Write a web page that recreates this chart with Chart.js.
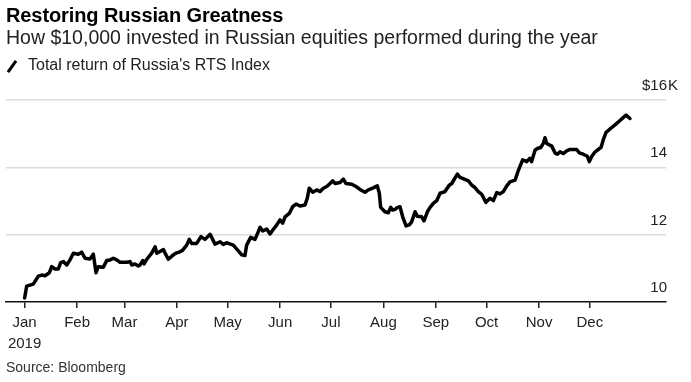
<!DOCTYPE html>
<html><head><meta charset="utf-8">
<script src="https://cdn.jsdelivr.net/npm/chart.js@4"></script>
<style>
html,body{margin:0;padding:0;background:#fff;}
#wrap{position:relative;width:691px;height:382px;overflow:hidden;font-family:"Liberation Sans",Arial,sans-serif;color:#000;}
#c{position:absolute;left:0;top:0;}
.t{position:absolute;white-space:nowrap;line-height:1;}
#title{left:6px;top:5px;font-size:20px;font-weight:bold;letter-spacing:-0.1px;}
#sub{left:6px;top:28px;font-size:19.5px;color:#222;}
#leg{left:28px;top:57px;font-size:16px;color:#222;}
#legicon{position:absolute;left:5px;top:65px;width:14px;height:3px;background:#000;transform:rotate(-55deg);}
#src{left:6px;top:360px;font-size:14px;color:#333;}
</style></head>
<body>
<div id="wrap">
<canvas id="c" width="691" height="382"></canvas>
<div class="t" id="title">Restoring Russian Greatness</div>
<div class="t" id="sub">How $10,000 invested in Russian equities performed during the year</div>
<div id="legicon"></div>
<div class="t" id="leg">Total return of Russia's RTS Index</div>
<div class="t" id="src">Source: Bloomberg</div>
</div>
<script>
// Day of year 2019 (0 = Jan 1) and value in $K
const days = [0,1.2,5.1,8.1,10.1,12.1,14.6,16.0,18.0,19.9,21.3,22.9,24.9,26.8,28.8,31.7,33.7,35.7,38.6,40.6,42.2,43.5,46.5,48.5,50.5,52.4,54.4,56.4,60.3,62.3,63.3,65.2,67.2,68.2,69.8,70.6,72.2,75.1,77.1,78.1,80.0,82.0,83.0,84.9,87.9,89.9,91.8,93.4,95.8,97.3,98.7,101.7,104.2,106.6,109.6,112.5,115.5,117.4,119.4,120.4,123.3,126.3,128.3,130.2,131.2,133.6,136.1,138.1,139.1,140.7,143.1,145.0,147.0,149.0,150.9,152.5,153.9,156.4,158.4,160.4,162.7,165.7,167.0,168.2,170.2,172.6,174.6,176.5,178.5,180.5,182.1,183.4,186.4,188.3,189.9,193.3,195.8,199.2,201.1,203.1,206.0,208.4,209.6,210.4,212.9,214.9,216.3,217.5,218.9,220.2,221.8,223.4,225.4,227.3,228.7,230.7,232.0,234.6,236.0,238.0,239.6,241.5,243.5,245.5,248.4,250.9,252.4,255.7,257.3,260.2,262.2,264.2,266.1,268.1,270.1,272.6,275.0,277.0,279.0,280.9,282.9,284.9,286.8,289.8,291.7,294.3,296.7,298.6,299.6,301.6,303.0,305.0,306.5,307.5,308.5,311.5,313.4,314.8,316.4,318.3,320.3,322.3,326.2,327.8,330.1,332.5,333.7,335.1,337.1,339.0,340.6,342.0,343.6,345.9,348.9,351.8,354.2,355.4,357.7];
const values = [10.12,10.47,10.53,10.77,10.80,10.78,10.87,11.05,10.98,10.98,11.17,11.20,11.10,11.25,11.45,11.42,11.48,11.30,11.28,11.42,10.87,11.05,11.03,11.23,11.25,11.30,11.25,11.18,11.18,11.20,11.10,11.13,11.07,11.10,11.23,11.13,11.27,11.45,11.64,11.45,11.50,11.56,11.45,11.27,11.40,11.46,11.49,11.54,11.69,11.86,11.74,11.74,11.94,11.86,12.01,11.72,11.79,11.71,11.76,11.74,11.69,11.52,11.40,11.38,11.69,11.92,11.86,12.09,12.22,12.11,12.17,12.02,12.16,12.29,12.44,12.34,12.53,12.63,12.83,12.91,12.85,12.88,13.08,13.38,13.26,13.33,13.28,13.38,13.43,13.52,13.60,13.52,13.55,13.65,13.52,13.50,13.43,13.31,13.26,13.33,13.39,13.45,13.23,12.81,12.68,12.65,12.81,12.73,12.75,12.80,12.83,12.53,12.26,12.29,12.38,12.68,12.55,12.53,12.41,12.68,12.81,12.93,13.01,13.23,13.28,13.47,13.52,13.80,13.70,13.64,13.60,13.47,13.40,13.28,13.20,12.96,13.08,13.01,13.25,13.21,13.28,13.45,13.57,13.62,13.90,14.22,14.17,14.27,14.17,14.51,14.56,14.59,14.71,14.88,14.71,14.63,14.43,14.39,14.46,14.41,14.49,14.53,14.53,14.43,14.39,14.33,14.17,14.32,14.46,14.53,14.59,14.83,15.04,15.14,15.26,15.39,15.50,15.55,15.45];
const monthStarts = [0,31,59,90,120,151,181,212,243,273,304,334];
const monthLabels = ["Jan","Feb","Mar","Apr","May","Jun","Jul","Aug","Sep","Oct","Nov","Dec"];
const yearLabel = "2019";
const yTicks = [10,12,14,16];

const FONT = '"Liberation Sans", Arial, sans-serif';

const yLabelPlugin = {
  id: 'yLabels',
  afterDraw(chart) {
    const ctx = chart.ctx, y = chart.scales.y, ca = chart.chartArea;
    ctx.save();
    ctx.font = '15px ' + FONT;
    ctx.fillStyle = '#222';
    ctx.textBaseline = 'alphabetic';
    const rx = ca.right + 1;
    yTicks.forEach((v, i) => {
      const py = y.getPixelForValue(v) - 10;
      const s = String(v);
      ctx.textAlign = 'right';
      ctx.fillText(s, rx, py);
      if (i === yTicks.length - 1) {
        const w = ctx.measureText(s).width;
        ctx.fillText('$', rx - w, py);
        ctx.textAlign = 'left';
        ctx.fillText('K', rx + 1, py);
      }
    });
    ctx.restore();
  }
};

new Chart(document.getElementById('c'), {
  type: 'line',
  data: {
    datasets: [{
      data: days.map((d, i) => ({x: d, y: values[i]})),
      borderColor: '#000',
      borderWidth: 3.5,
      pointRadius: 0,
      tension: 0,
      borderJoinStyle: 'round',
      borderCapStyle: 'round',
      fill: false
    }]
  },
  options: {
    responsive: false,
    animation: false,
    devicePixelRatio: 1,
    layout: { padding: { left: 6, right: 25, top: 100, bottom: 0 } },
    plugins: { legend: { display: false }, tooltip: { enabled: false }, title: { display: false } },
    scales: {
      x: {
        type: 'linear',
        min: -11,
        max: 379,
        afterBuildTicks: s => { s.ticks = monthStarts.map(v => ({ value: v })); },
        afterFit: s => { s.height = 80; },
        ticks: {
          autoSkip: false,
          maxRotation: 0,
          padding: 5,
          color: '#222',
          font: { family: FONT, size: 15, lineHeight: 1.35 },
          callback: (v, i) => i === 0 ? [monthLabels[0], yearLabel] : monthLabels[i]
        },
        grid: { drawOnChartArea: false, drawTicks: true, tickLength: 6, color: '#222', lineWidth: 1.5 },
        border: { display: true, color: '#111', width: 1.5 }
      },
      y: {
        min: 10,
        max: 16,
        afterBuildTicks: s => { s.ticks = yTicks.map(v => ({ value: v })); },
        afterFit: s => { s.width = 0; },
        ticks: { display: false },
        grid: { drawTicks: false, lineWidth: 1.5, color: ctx => ctx.tick && ctx.tick.value === 10 ? 'rgba(0,0,0,0)' : '#dcdcdc' },
        border: { display: false }
      }
    }
  },
  plugins: [yLabelPlugin]
});
</script>
</body></html>
